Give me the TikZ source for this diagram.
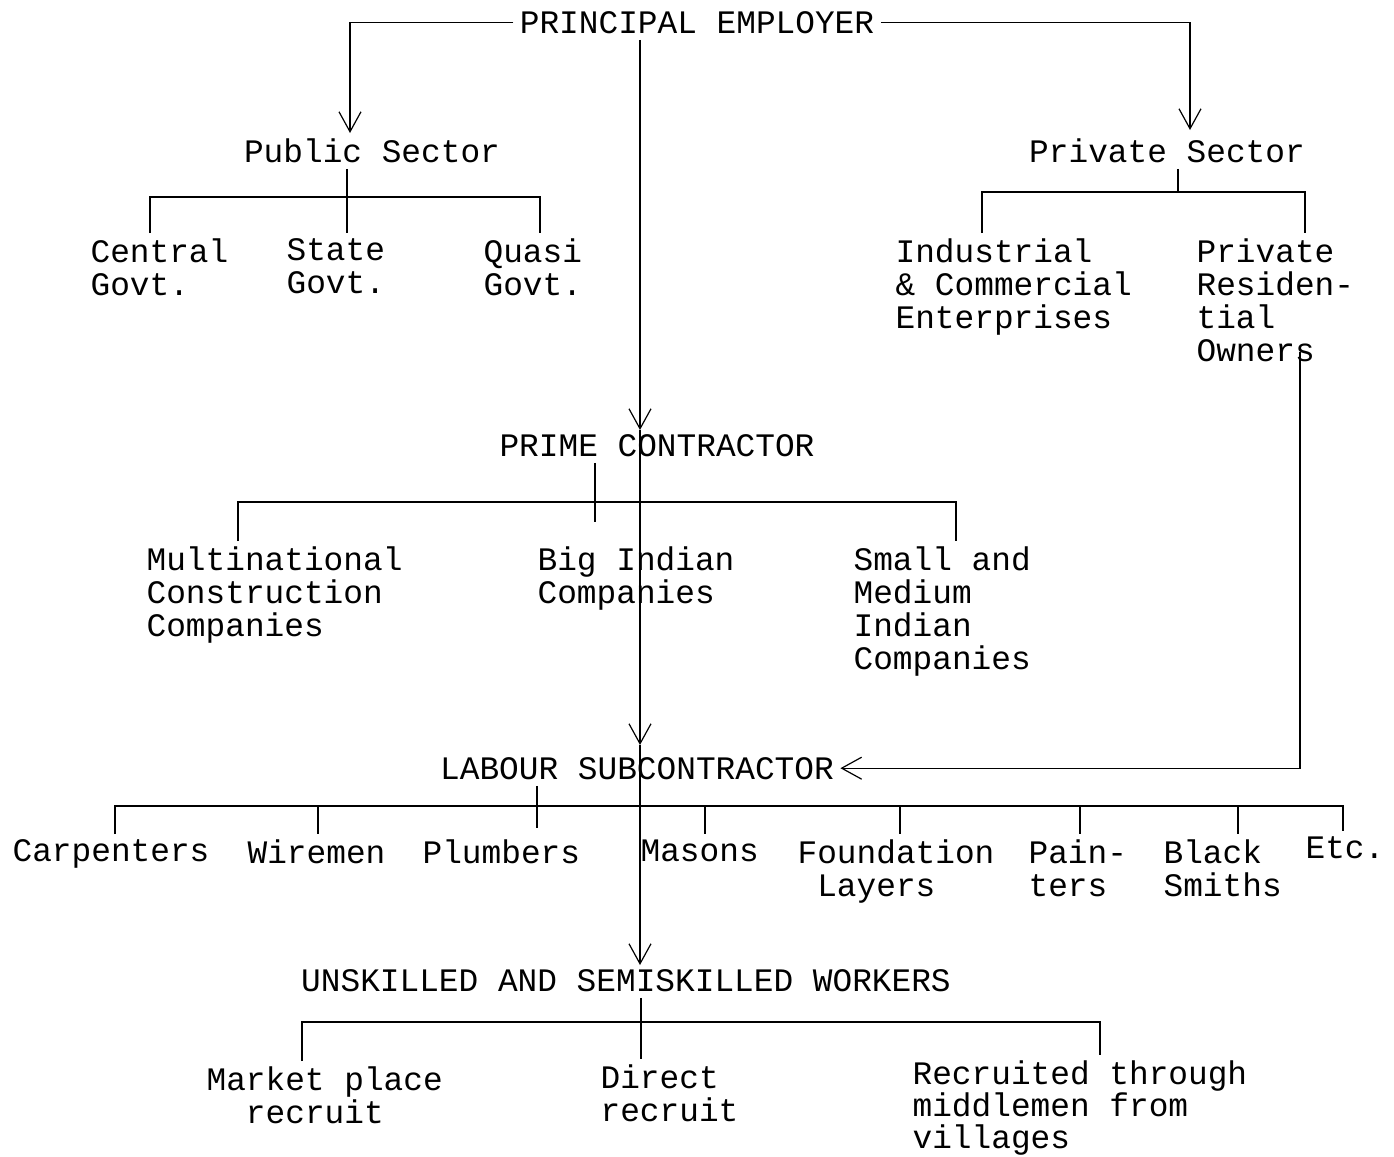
\documentclass[tikz,border=0pt]{standalone}
\usepackage{fontspec}
\setmainfont{Liberation Mono}
\usetikzlibrary{arrows.meta}

\begin{document}
\begin{tikzpicture}[x=0.5pt,y=-0.5pt,line width=0.6pt,
  every node/.style={font=\fontsize{16.4}{16.6}\selectfont},
  head/.style={anchor=base,inner sep=3pt},
  item/.style={anchor=north west,align=left,inner sep=2.5pt},
  arr/.style={-{Straight Barb[length=10pt,width=11pt]}}]

  \useasboundingbox (0,0) rectangle (1394,1157);

  % levels
  \node[head] (pe) at (697,33) {PRINCIPAL EMPLOYER};
  \node[head] (ps) at (372,162) {Public Sector};
  \node[head] (prs) at (1167,162) {Private Sector};
  \node[head] (pc) at (657,456) {PRIME CONTRACTOR};
  \node[head] (ls) at (637,779) {LABOUR SUBCONTRACTOR};
  \node[head] (uw) at (626,991) {UNSKILLED AND SEMISKILLED WORKERS};

  % employers
  \node[item] (cg) at (85,233) {Central\\Govt.};
  \node[item] (sg) at (281,233) {State\\Govt.};
  \node[item] (qg) at (478,233) {Quasi\\Govt.};
  \node[item] (ice) at (890,233) {Industrial\\\& Commercial\\Enterprises};
  \node[item] (pro) at (1191,233) {Private\\Residen-\\tial\\Owners};

  % contractors
  \node[item] (mnc) at (141,541) {Multinational\\Construction\\Companies};
  \node[item] (bic) at (532,541) {Big Indian\\Companies};
  \node[item] (smc) at (848,541) {Small and\\Medium\\Indian\\Companies};

  % trades
  \node[item] (carp) at (7,834) {Carpenters};
  \node[item] (wire) at (242,834) {Wiremen};
  \node[item] (plumb) at (417,834) {Plumbers};
  \node[item] (mason) at (635,834) {Masons};
  \node[item] (found) at (792,834) {Foundation\\\phantom{F}Layers};
  \node[item] (paint) at (1023,834) {Pain-\\ters};
  \node[item] (smith) at (1158,834) {Black\\Smiths};
  \node[item] (etc) at (1300,831) {Etc.};

  % workers
  \node[item] (mpr) at (201,1061) {Market place\\\phantom{Ma}recruit};
  \node[item] (dr) at (595,1059) {Direct\\recruit};
  \node[item,font=\fontsize{16.4}{16.1}\selectfont] (rtm) at (907,1055) {Recruited through\\middlemen from\\villages};

  % arrows
  \coordinate (psin) at (350,133);
  \coordinate (prsin) at (1190,130);
  \coordinate (pcin) at (640,430);
  \coordinate (lsin) at (640,745);
  \coordinate (uwin) at (640,965);
  \coordinate (own) at (1300,352);

  \draw[arr] (pe.west) -| (psin);
  \draw[arr] (pe.east) -| (prsin);
  \draw[arr] (pe.south -| pcin) -- (pcin);
  \draw[arr] (pcin) -- (lsin);
  \draw[arr] (lsin) -- (uwin);
  \draw[arr] (own) |- (ls.east);

  % public sector
  \coordinate (psL) at (150,197);
  \coordinate (psM) at (347,197);
  \coordinate (psR) at (540,197);
  \draw (psL |- cg.north) -- (psL) -- (psR) -- (psR |- qg.north);
  \draw (ps.south -| psM) -- (psM |- sg.north);

  % private sector
  \coordinate (prsL) at (982,192);
  \coordinate (prsM) at (1178,192);
  \coordinate (prsR) at (1305,192);
  \draw (prsL |- ice.north) -- (prsL) -- (prsR) -- (prsR |- pro.north);
  \draw (prs.south -| prsM) -- (prsM);

  % prime contractor
  \coordinate (pcL) at (238,502);
  \coordinate (pcM) at (595,522);
  \coordinate (pcR) at (956,502);
  \draw (pcL |- mnc.north) -- (pcL) -- (pcR) -- (pcR |- smc.north);
  \draw (pc.south -| pcM) -- (pcM);

  % labour subcontractor
  \coordinate (lsL) at (115,806);
  \coordinate (lsM) at (537,828);
  \coordinate (lsR) at (1343,806);
  \draw (lsL |- carp.north) -- (lsL) -- (lsR) -- (lsR |- etc.north);
  \draw (ls.south -| lsM) -- (lsM);
  \foreach \x/\n in {318/wire,705/mason,900/found,1080/paint,1238/smith}
    \draw (\x,806) -- (\x,806 |- \n.north);

  % unskilled workers
  \coordinate (uwL) at (302,1022);
  \coordinate (uwM) at (641,1022);
  \coordinate (uwR) at (1100,1022);
  \draw (uwL |- mpr.north) -- (uwL) -- (uwR) -- (uwR |- rtm.north);
  \draw (uw.south -| uwM) -- (uwM |- dr.north);
\end{tikzpicture}
\end{document}
